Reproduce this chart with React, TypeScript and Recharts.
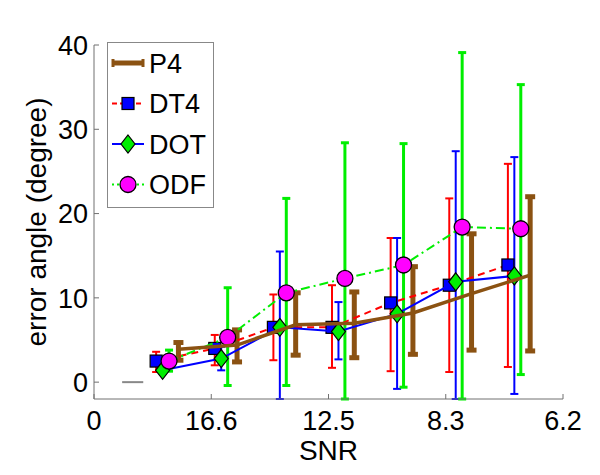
import React from 'react';
import { ComposedChart, Scatter, XAxis, YAxis, ErrorBar, Legend } from 'recharts';

// Group positions along the SNR axis and tick labels
const groupX = [0.5, 1, 1.5, 2, 2.5, 3, 3.5];
const xTickValues = [0, 1, 2, 3, 4];
const xTickLabels = ['0', '16.6', '12.5', '8.3', '6.2'];
const yTickValues = [0, 10, 20, 30, 40];

// Horizontal offsets of each method inside a group
const dt4Offset = 0.03;
const dotOffset = 0.085;
const odfOffset = 0.14;
const p4Offset = 0.22;

// P4
const p4Mean = [3.9, 4.4, 6.8, 7.0, 8.2, 10.5, 12.7];
const p4Low = [2.6, 2.4, 3.2, 2.9, 3.3, 3.8, 3.7];
const p4High = [4.7, 6.2, 10.6, 10.7, 13.7, 17.6, 22.0];

// DT4
const dt4Mean = [2.5, 4.0, 6.5, 6.5, 9.4, 11.5, 13.9];
const dt4Low = [1.2, 2.0, 2.6, 1.7, 1.3, 1.2, 1.8];
const dt4High = [3.6, 5.6, 10.4, 11.5, 17.1, 21.8, 25.9];

// DOT (lower ends cut off by the axis are read as -2, the visible end)
const dotMean = [1.4, 2.8, 6.5, 6.0, 8.1, 11.9, 12.6];
const dotLow = [1.0, 1.4, -2, 2.7, -0.8, -2, -1.4];
const dotHigh = [3.0, 4.2, 15.5, 9.5, 17.1, 27.4, 26.7];

// ODF
const odfMean = [2.5, 5.3, 10.6, 12.3, 13.9, 18.4, 18.2];
const odfLow = [1.3, -0.4, -0.4, -2, -0.6, -2, 0.9];
const odfHigh = [3.8, 11.2, 21.8, 28.4, 28.3, 39.1, 35.3];

// short grey segment near zero
const greyX = [0.24, 0.42];
const greyY = [0, 0];

const makeRows = (offset: number, mean: number[], low: number[], high: number[]) =>
  groupX.map((g, i) => ({ x: g + offset, y: mean[i], err: [mean[i] - low[i], high[i] - mean[i]] }));

const p4Rows = makeRows(p4Offset, p4Mean, p4Low, p4High);
const dt4Rows = makeRows(dt4Offset, dt4Mean, dt4Low, dt4High);
const dotRows = makeRows(dotOffset, dotMean, dotLow, dotHigh);
const odfRows = makeRows(odfOffset, odfMean, odfLow, odfHigh);
const greyRows = greyX.map((x, i) => ({ x, y: greyY[i] }));

const FONT = 'Liberation Sans, Arial, Helvetica, sans-serif';
const BROWN = '#8b5212';
const RED = '#ff0000';
const BLUE = '#0000ff';
const GREEN = '#00ee00';
const MAGENTA = '#ff00ff';
const AXIS = '#707070';

const Square = (props: any) => {
  const { cx, cy } = props;
  if (cx == null || cy == null) return <g />;
  return <rect x={cx - 6} y={cy - 6} width={12} height={12} fill={BLUE} stroke="#000" strokeWidth={1.2} />;
};
const Diamond = (props: any) => {
  const { cx, cy } = props;
  if (cx == null || cy == null) return <g />;
  return (
    <polygon
      points={`${cx},${cy - 9} ${cx + 7},${cy} ${cx},${cy + 9} ${cx - 7},${cy}`}
      fill={GREEN}
      stroke="#000"
      strokeWidth={1.2}
    />
  );
};
const Circle = (props: any) => {
  const { cx, cy } = props;
  if (cx == null || cy == null) return <g />;
  return <circle cx={cx} cy={cy} r={8} fill={MAGENTA} stroke="#000" strokeWidth={1.3} />;
};
const NoShape = () => <g />;

const XTick = (props: any) => {
  const { x, y, payload, index } = props;
  return (
    <g>
      <line x1={x} y1={y} x2={x} y2={y - 5} stroke={AXIS} strokeWidth={1} />
      <text x={x} y={y + 31} textAnchor="middle" fontSize={27} fontFamily={FONT} fill="#000">
        {xTickLabels[xTickValues.indexOf(payload.value)] ?? xTickLabels[index]}
      </text>
    </g>
  );
};

const YTick = (props: any) => {
  const { x, y, payload } = props;
  return (
    <g>
      <line x1={x} y1={y} x2={x + 5} y2={y} stroke={AXIS} strokeWidth={1} />
      <text x={x - 6} y={y} dy="0.36em" textAnchor="end" fontSize={27} fontFamily={FONT} fill="#000">
        {payload.value}
      </text>
    </g>
  );
};

const legendItems = [
  { name: 'P4', color: BROWN, dash: undefined, width: 5, marker: 'none' },
  { name: 'DT4', color: RED, dash: '5 3', width: 2, marker: 'square' },
  { name: 'DOT', color: BLUE, dash: undefined, width: 2, marker: 'diamond' },
  { name: 'ODF', color: GREEN, dash: '2 3', width: 2, marker: 'circle' },
];

const LegendBox = () => (
  <svg width={107} height={166} style={{ display: 'block' }}>
    <rect x={0.5} y={0.5} width={106} height={165} fill="#fff" stroke="#888" strokeWidth={1} />
    {legendItems.map((it, i) => {
      const cy = 21 + i * 40.5;
      const cx = 21;
      return (
        <g key={it.name}>
          <line x1={5} y1={cy} x2={37} y2={cy} stroke={it.color} strokeWidth={it.width} strokeDasharray={it.dash} />
          {it.name === 'P4' && (
            <>
              <line x1={6} y1={cy - 4} x2={6} y2={cy + 4} stroke={it.color} strokeWidth={3} />
              <line x1={36} y1={cy - 4} x2={36} y2={cy + 4} stroke={it.color} strokeWidth={3} />
            </>
          )}
          {it.marker === 'square' && <Square cx={cx} cy={cy} />}
          {it.marker === 'diamond' && <Diamond cx={cx} cy={cy} />}
          {it.marker === 'circle' && <Circle cx={cx} cy={cy} />}
          <text x={42} y={cy} dy="0.36em" fontSize={27} fontFamily={FONT} fill="#000">
            {it.name}
          </text>
        </g>
      );
    })}
  </svg>
);

const YLabel = (props: any) => {
  const vb = props.viewBox || { y: 37, height: 354 };
  const cy = vb.y + vb.height / 2;
  const x = 38;
  return (
    <text
      x={x}
      y={cy}
      transform={`rotate(-90, ${x}, ${cy})`}
      textAnchor="middle"
      fontSize={28}
      fontFamily={FONT}
      fill="#000"
    >
      error angle (degree)
    </text>
  );
};

const XLabel = (props: any) => {
  const vb = props.viewBox || { x: 86, width: 469, y: 391 };
  return (
    <text x={vb.x + vb.width / 2} y={452} textAnchor="middle" fontSize={28} fontFamily={FONT} fill="#000">
      SNR
    </text>
  );
};

export default function App() {
  return (
    <div style={{ width: 600, height: 475, fontFamily: FONT }}>
      <ComposedChart width={600} height={475} margin={{ top: 37, right: 45, bottom: 0, left: 0 }}>
        <XAxis
          type="number"
          dataKey="x"
          domain={[0, 4]}
          ticks={xTickValues}
          interval={0}
          allowDataOverflow
          height={84}
          tickSize={0}
          tickMargin={0}
          tickLine={false}
          tick={<XTick />}
          stroke={AXIS}
          axisLine={{ stroke: AXIS, strokeWidth: 1 }}
          label={<XLabel />}
        />
        <YAxis
          type="number"
          dataKey="y"
          domain={[-2, 40]}
          ticks={yTickValues}
          interval={0}
          allowDataOverflow
          width={86}
          tickSize={0}
          tickMargin={0}
          tickLine={false}
          tick={<YTick />}
          axisLine={{ stroke: AXIS, strokeWidth: 1 }}
          label={<YLabel />}
        />
        <Scatter
          data={greyRows}
          line={{ stroke: '#888', strokeWidth: 2 }}
          lineType="joint"
          shape={<NoShape />}
          isAnimationActive={false}
        />
        <Scatter
          data={dt4Rows}
          line={{ stroke: RED, strokeWidth: 2, strokeDasharray: '7 5' }}
          lineType="joint"
          shape={<Square />}
          isAnimationActive={false}
        >
          <ErrorBar dataKey="err" direction="y" width={4} stroke={RED} strokeWidth={2} isAnimationActive={false} />
        </Scatter>
        <Scatter
          data={dotRows}
          line={{ stroke: BLUE, strokeWidth: 2 }}
          lineType="joint"
          shape={<Diamond />}
          isAnimationActive={false}
        >
          <ErrorBar dataKey="err" direction="y" width={4} stroke={BLUE} strokeWidth={2} isAnimationActive={false} />
        </Scatter>
        <Scatter
          data={odfRows}
          line={{ stroke: GREEN, strokeWidth: 2, strokeDasharray: '9 4 2 4' }}
          lineType="joint"
          shape={<Circle />}
          isAnimationActive={false}
        >
          <ErrorBar dataKey="err" direction="y" width={4} stroke={GREEN} strokeWidth={3} isAnimationActive={false} />
        </Scatter>
        <Scatter
          data={p4Rows}
          line={{ stroke: BROWN, strokeWidth: 3.5 }}
          lineType="joint"
          shape={<NoShape />}
          isAnimationActive={false}
        >
          <ErrorBar dataKey="err" direction="y" width={5} stroke={BROWN} strokeWidth={5} isAnimationActive={false} />
        </Scatter>
        <Legend
          layout="horizontal"
          verticalAlign="middle"
          align="center"
          wrapperStyle={{ left: 99, top: 34, width: 107, height: 166 }}
          content={<LegendBox />}
        />
      </ComposedChart>
    </div>
  );
}
